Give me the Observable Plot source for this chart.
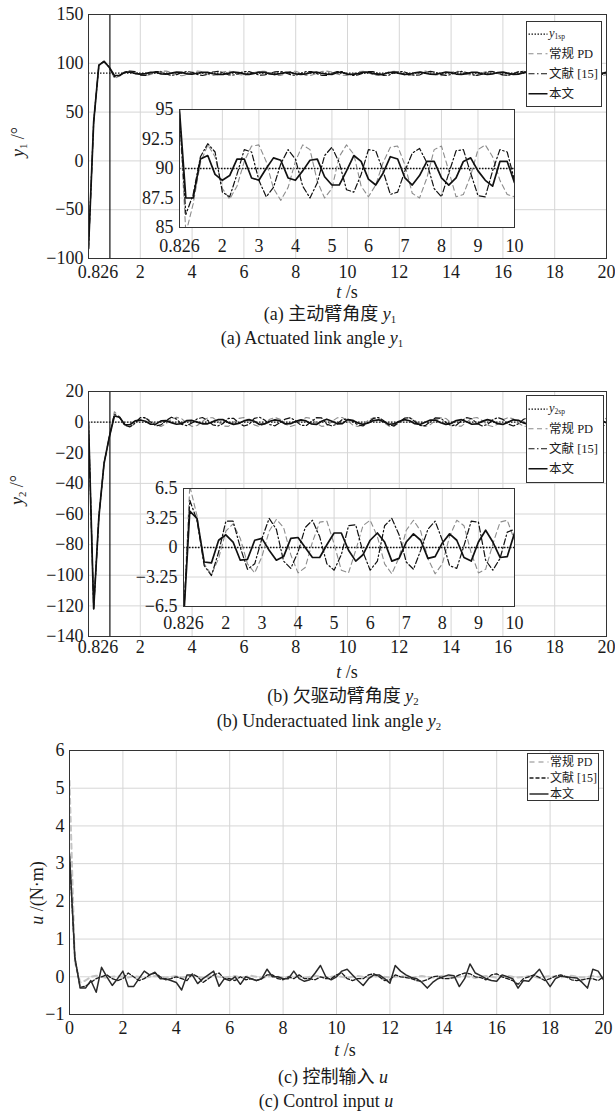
<!DOCTYPE html>
<html><head><meta charset="utf-8">
<script src="https://cdn.jsdelivr.net/npm/d3@7"></script>
<script src="https://cdn.jsdelivr.net/npm/@observablehq/plot@0.6"></script>
<style>
body{margin:0;background:#fff;}
#fig{position:relative;width:615px;height:1112px;font-family:"Liberation Serif","Noto Sans CJK SC",serif;color:#1a1a1a;overflow:hidden}
#fig svg.plotsvg{font-family:"Liberation Serif",serif !important;font-size:18px !important;overflow:visible !important;background:transparent !important;}
.t{position:absolute;transform:translate(-50%,-50%);white-space:nowrap;font-size:18px;line-height:1}
.ylab{position:absolute;transform:translate(-50%,-50%) rotate(-90deg);white-space:nowrap;font-size:18px;line-height:1}
.leg{position:absolute;background:#fff;border:1.3px solid #333;box-sizing:border-box}
.leg .row{position:absolute;left:1px;display:flex;align-items:center;white-space:nowrap;transform:translateY(-50%);line-height:1}
sub{font-size:0.6em;vertical-align:-0.3em}
</style></head><body><div id="fig"></div>
<script>
// ---------------- data (sampled every STEP seconds from t = 0 to 20) ----------------
const STEP = 0.2;
const T = d3.range(101).map(i => Math.round(i * STEP * 10) / 10);

// Panel (a): actuated link angle y1 (deg)
const y1sp = 90;
const a_pd = [-90,40,98,102,96,84.5,87.0,90.5,92.0,91.0,
88.3,87.4,88.5,90.6,91.9,92.0,90.6,88.3,87.3,88.4,
90.6,92.0,91.6,88.9,87.5,88.3,91.0,92.0,91.2,88.5,
87.6,88.6,90.5,91.8,91.9,90.3,87.9,87.5,89.2,91.6,
91.9,89.8,87.6,87.8,89.4,91.6,92.0,91.0,89.0,87.8,
87.6,89.0,91.4,91.9,90.5,88.0,87.5,88.9,91.3,91.9,
90.6,88.1,87.5,88.6,91.0,92.0,91.0,88.4,87.4,88.3,
90.7,91.9,91.4,88.9,87.5,87.9,90.2,91.8,91.7,89.5,
87.6,87.7,89.7,91.6,91.9,90.1,87.8,87.5,89.2,91.4,
92.0,90.7,88.2,87.4,88.6,91.0,92.0,91.2,88.6,87.5,
88.2];
const a_ref = [-90,40,98,102,96,86.1,87.8,91.0,92.1,91.4,
88.0,87.6,89.5,91.6,91.4,89.0,87.6,88.4,90.4,91.6,
90.8,88.5,87.5,88.8,91.1,91.8,90.5,88.2,88.0,89.5,
91.6,91.5,89.8,87.8,88.0,89.8,91.3,91.7,90.5,88.3,
87.6,89.6,91.5,91.6,89.6,87.7,87.6,89.8,91.6,91.4,
89.0,87.6,88.0,90.0,91.6,91.4,89.4,87.6,87.9,90.2,
91.7,91.2,89.0,87.6,88.2,90.5,91.7,90.9,88.7,87.5,
88.5,90.8,91.7,90.6,88.4,87.6,88.8,91.0,91.6,90.2,
88.1,87.7,89.2,91.3,91.5,89.9,87.9,87.8,89.6,91.5,
91.4,89.5,87.7,88.0,90.0,91.6,91.2,89.1,87.6,88.3,
90.4];
const a_ours = [-90,40,98,102,96,87.5,87.5,90.8,91.1,89.5,
89.0,89.4,90.8,90.8,89.2,89.0,90.0,90.9,90.7,89.2,
89.0,89.8,90.7,90.8,89.3,88.6,88.6,89.8,91.1,90.6,
89.1,88.6,89.6,91.0,90.8,89.2,88.6,89.4,90.6,90.6,
89.2,88.6,89.2,90.6,90.9,89.8,89.0,88.5,90.6,90.6,
88.8,88.6,89.4,90.7,90.9,89.4,88.6,89.0,90.6,90.9,
89.6,88.7,88.8,90.3,91.0,90.0,88.8,88.6,89.8,90.9,
90.5,89.0,88.6,89.5,90.8,90.7,89.3,88.6,89.2,90.6,
90.9,89.6,88.7,88.9,90.4,91.0,89.9,88.7,88.7,90.0,
90.9,90.3,88.9,88.6,89.6,90.8,90.6,89.1,88.6,89.4,
90.7];

// Panel (b): underactuated link angle y2 (deg)
const y2sp = 0;
const b_pd = [0,-122,-62,-27,-10,6.8,3.5,-1.8,-3.0,-1.2,
1.8,2.6,1.0,-1.8,-2.8,-1.0,1.8,3.1,2.2,-0.8,
-2.8,-2.2,0.6,2.8,2.9,0.4,-2.5,-2.8,-0.3,2.4,
3.0,1.2,-1.8,-2.9,-1.1,1.9,3.0,1.8,-1.2,-2.9,
-1.8,1.2,3.0,2.4,-0.6,-2.8,-2.4,0.4,2.8,3.0,
0.8,-1.8,-2.9,-1.6,1.2,2.9,2.5,-0.2,-2.6,-2.7,
-0.3,2.4,3.0,1.2,-1.7,-2.9,-1.6,1.2,2.9,2.4,
-0.4,-2.7,-2.6,0.0,2.6,3.0,1.0,-1.9,-2.9,-1.3,
1.5,3.0,2.2,-0.6,-2.8,-2.5,0.2,2.7,2.9,0.8,
-2.0,-2.9,-1.1,1.7,3.0,2.0,-0.8,-2.8,-2.4,0.4,
2.7];
const b_ref = [0,-122,-62,-27,-10,5.2,3.0,-2.0,-3.1,-0.5,
2.9,2.9,0.0,-2.4,-1.8,1.0,3.2,2.0,-1.5,-2.3,
-0.5,2.2,3.0,1.2,-1.8,-2.5,-0.8,2.4,2.5,-0.5,
-2.5,-1.5,2.4,3.2,1.4,-1.6,-2.4,-0.3,2.0,2.9,
0.8,-2.0,-2.3,0.2,2.9,2.8,-1.4,-2.5,-1.2,1.7,
2.0,0.6,-1.9,-2.5,-0.2,2.4,3.0,0.9,-2.0,-2.4,
0.0,2.6,2.8,0.4,-2.2,-2.3,0.4,2.8,2.6,-0.2,
-2.4,-2.0,0.9,2.9,2.2,-0.8,-2.5,-1.6,1.4,3.0,
1.8,-1.2,-2.5,-1.1,1.9,3.0,1.3,-1.6,-2.5,-0.5,
2.3,2.9,0.7,-2.0,-2.4,0.0,2.6,2.7,0.2,-2.2,
-2.2];
const b_ours = [0,-122,-62,-27,-10,4.0,3.2,-1.6,-1.7,0.8,
1.4,0.6,-1.4,-1.3,0.8,1.0,-0.3,-1.4,-1.0,1.0,
1.1,0.0,-1.1,-1.1,0.3,1.6,1.6,-0.3,-1.5,-0.8,
0.8,1.6,0.6,-1.5,-1.2,0.6,1.5,0.8,-1.2,-1.0,
0.5,1.5,0.8,-1.1,-1.5,0.6,1.9,0.6,-1.1,-1.0,
1.6,1.2,-0.6,-1.5,-0.6,1.0,1.5,0.2,-1.4,-1.2,
0.5,1.6,0.9,-1.0,-1.5,-0.1,1.4,1.3,-0.4,-1.5,
-0.8,1.0,1.6,0.2,-1.4,-1.2,0.5,1.6,0.8,-1.0,
-1.5,0.0,1.5,1.2,-0.5,-1.5,-0.7,1.0,1.6,0.2,
-1.4,-1.2,0.5,1.6,0.8,-1.0,-1.5,0.0,1.5,1.2,
-0.5];

// Panel (c): control input u (N·m)
const c_pd = [5.2,0.4,-0.15,-0.1,0.0,0.03,0.0,-0.03,0.0,0.02,
0.0,-0.02,0.02,0.0,-0.03,0.0,0.02,0.0,-0.02,0.0,
0.02,-0.02,0.0,0.03,0.0,-0.03,0.0,0.02,0.0,-0.02,
0.0,0.02,-0.02,0.0,0.03,0.0,-0.03,0.0,0.02,0.0,
-0.02,0.0,0.02,0.0,-0.03,0.0,0.03,0.0,-0.02,0.0,
0.02,0.0,-0.03,0.0,0.02,0.0,-0.02,0.0,0.03,0.0,
-0.02,0.0,0.02,0.0,-0.03,0.0,0.02,0.0,-0.02,0.0,
0.03,0.0,-0.02,0.0,0.02,0.0,-0.03,0.0,0.02,0.0,
-0.02,0.0,0.03,0.0,-0.02,0.0,0.02,0.0,-0.03,0.0,
0.02,0.0,-0.02,0.0,0.03,0.0,-0.02,0.0,0.02,0.0,
0.0];
const c_ref = [3.2,0.5,-0.28,-0.25,-0.15,-0.05,0.0,0.05,-0.05,-0.1,
-0.05,0.1,0.0,-0.1,-0.05,0.05,0.1,0.0,-0.08,-0.05,
0.0,-0.05,-0.1,0.08,0.0,-0.15,-0.05,0.05,0.1,-0.05,
-0.05,-0.1,0.0,-0.08,-0.05,-0.1,-0.05,0.05,0.05,-0.05,
-0.08,0.0,-0.05,0.05,-0.05,-0.05,-0.08,0.0,-0.05,-0.05,
0.05,0.1,-0.05,-0.1,-0.05,-0.05,0.05,0.08,0.0,-0.1,
-0.08,0.05,0.0,-0.02,-0.05,-0.1,-0.12,-0.08,0.0,0.02,
-0.05,-0.05,-0.02,0.05,0.1,0.08,0.0,-0.02,-0.08,0.05,
0.08,0.0,-0.05,-0.1,-0.2,-0.05,0.0,0.05,-0.02,-0.1,
-0.05,0.02,0.05,0.0,-0.08,-0.1,-0.08,-0.05,-0.05,-0.1,
0.0];
const c_ours = [3.26,0.52,-0.3,-0.3,-0.1,-0.41,0.25,0.0,-0.23,-0.05,
0.15,-0.26,-0.26,-0.05,0.15,0.05,0.12,-0.05,-0.05,-0.1,
-0.15,-0.35,0.05,0.05,-0.18,-0.05,0.05,0.15,-0.25,-0.05,
-0.1,0.0,-0.2,0.0,-0.05,-0.1,-0.05,0.2,0.0,0.0,
-0.05,-0.05,0.15,-0.05,-0.12,-0.08,0.1,0.3,0.0,-0.08,
0.0,0.15,0.2,0.05,-0.1,-0.23,-0.05,0.05,0.05,-0.05,
-0.17,0.3,0.15,0.05,-0.02,-0.05,-0.15,-0.3,-0.15,-0.05,
0.0,0.05,0.03,-0.26,-0.05,0.34,0.1,0.03,-0.05,-0.1,
-0.12,0.05,0.0,-0.05,-0.3,-0.1,-0.12,0.05,0.2,-0.05,
-0.26,-0.05,0.02,0.0,-0.02,-0.03,-0.15,-0.3,0.2,0.15,
-0.08];

// ticks
const tMark = 0.826;
const xTicksMain = [2,4,6,8,10,12,14,16,18,20];
const xTicksC = [0,2,4,6,8,10,12,14,16,18,20];
const xTicksInset = [0.826,2,3,4,5,6,7,8,9,10];
const yTicksA = [-100,-50,0,50,100,150];
const yTicksAin = [85,87.5,90,92.5,95];
const yTicksB = [-140,-120,-100,-80,-60,-40,-20,0,20];
const yTicksBin = [-6.5,-3.25,0,3.25,6.5];
const yTicksC = [-1,0,1,2,3,4,5,6];
const labels = {pd: "常规 PD", ref: "文献 [15]", ours: "本文"};

// ---------------- helpers ----------------
const fig = document.getElementById("fig");
const rows = vals => vals.map((v, i) => ({t: T[i], v}));
const fmt = d => (d < 0 ? "\u2212" : "") + Math.abs(d);
const GRID = {stroke: "#d6d6d6", strokeOpacity: 1, strokeWidth: 1};
const STYLE = {fontFamily: "'Liberation Serif', serif", fontSize: "18px", color: "#1a1a1a", background: "transparent", overflow: "visible"};
const SP = {stroke: "#111", strokeWidth: 1.3, strokeDasharray: "1.5,1.5"};
const S_AB = {
  pd: {stroke: "#8c8c8c", strokeWidth: 1.1, strokeDasharray: "5,3.5"},
  ref: {stroke: "#111", strokeWidth: 1.2, strokeDasharray: "6,2.5,1.5,2.5"},
  ours: {stroke: "#111", strokeWidth: 1.7}
};
const S_C = {
  pd: {stroke: "#c4c4c4", strokeWidth: 2, strokeDasharray: "5,4"},
  ref: {stroke: "#1a1a1a", strokeWidth: 1.3, strokeDasharray: "4,2"},
  ours: {stroke: "#2a2a2a", strokeWidth: 1.5}
};
function seriesLines(pd, ref, ours, S) {
  return [
    Plot.line(rows(pd), {x: "t", y: "v", clip: true, ...S.pd}),
    Plot.line(rows(ref), {x: "t", y: "v", clip: true, ...S.ref}),
    Plot.line(rows(ours), {x: "t", y: "v", clip: true, ...S.ours})
  ];
}
function place(el, left, top) {
  el.classList.add("plotsvg");
  const d = document.createElement("div");
  d.style.cssText = `position:absolute;left:${left}px;top:${top}px`;
  d.appendChild(el);
  fig.appendChild(d);
}
function text(html, x, y, cls = "t", extra = "") {
  const d = document.createElement("div");
  d.className = cls;
  d.style.cssText += `left:${x}px;top:${y}px;${extra}`;
  d.innerHTML = html;
  fig.appendChild(d);
}
function legend(left, top, w, h, fs, entries) {
  const box = document.createElement("div");
  box.className = "leg";
  box.style.cssText += `left:${left}px;top:${top}px;width:${w}px;height:${h}px;font-size:${fs}px`;
  entries.forEach(e => {
    const r = document.createElement("div");
    r.className = "row";
    r.style.top = e.y + "px";
    r.innerHTML = `<svg width="20" height="8" style="display:block"><line x1="0.5" x2="19.5" y1="4" y2="4" stroke="${e.s.stroke}" stroke-width="${e.s.strokeWidth}" stroke-dasharray="${e.s.strokeDasharray || ""}"/></svg><span style="margin-left:1px">${e.label}</span>`;
    box.appendChild(r);
  });
  fig.appendChild(box);
}

function mainPlot(o) {
  return Plot.plot({
    width: 615, height: o.height,
    marginTop: 14, marginBottom: o.height - 14 - o.fh, marginLeft: o.ml, marginRight: o.mr,
    x: {domain: [0, 20], label: null},
    y: {domain: o.ydom, label: null},
    style: STYLE,
    marks: [
      Plot.gridX(o.gx, GRID),
      Plot.gridY(o.gy, GRID),
      o.sp !== undefined ? Plot.ruleY([o.sp], SP) : null,
      ...o.lines,
      o.vline ? Plot.ruleX([o.vline], {stroke: "#111", strokeWidth: 1.2}) : null,
      Plot.frame({stroke: "#333", strokeWidth: 1}),
      Plot.axisY(o.yticks, {tickSize: 0, tickPadding: 5, tickFormat: fmt, label: null}),
      Plot.axisX(o.xticks, {tickSize: 0, tickPadding: o.xpad, tickFormat: fmt, label: null}),
      o.vline ? Plot.axisX([o.vline], {tickSize: 0, tickPadding: o.xpad, tickFormat: fmt, label: null, dx: -12}) : null
    ]
  });
}
function insetPlot(o) {
  return Plot.plot({
    width: o.ml + o.fw + 25, height: 10 + o.fh + 32,
    marginTop: 10, marginBottom: 32, marginLeft: o.ml, marginRight: 25,
    x: {domain: [0.826, 10], label: null},
    y: {domain: o.ydom, label: null},
    style: STYLE,
    marks: [
      Plot.frame({fill: "white", stroke: null}),
      Plot.gridX([2,3,4,5,6,7,8,9], GRID),
      Plot.gridY(o.gy, GRID),
      Plot.ruleY([o.sp], SP),
      ...o.lines,
      Plot.frame({stroke: "#333", strokeWidth: 1}),
      Plot.axisY(o.yticks, {tickSize: 0, tickPadding: 6, tickFormat: fmt, label: null}),
      Plot.axisX(xTicksInset, {tickSize: 0, tickPadding: o.xpad, tickFormat: fmt, label: null})
    ]
  });
}

// ---------------- panel (a) ----------------
place(mainPlot({height: 288, fh: 244, ml: 88, mr: 9, ydom: [-100, 150],
  gx: [2,4,6,8,10,12,14,16,18], gy: [-50,0,50,100], sp: y1sp, vline: tMark,
  lines: seriesLines(a_pd, a_ref, a_ours, S_AB), yticks: yTicksA, xticks: xTicksMain, xpad: 7}), 0, 0);
place(insetPlot({ml: 55, fw: 335, fh: 118, ydom: [85, 95], gy: [87.5, 90, 92.5], sp: y1sp,
  lines: seriesLines(a_pd, a_ref, a_ours, S_AB), yticks: yTicksAin, xpad: 12}), 179 - 55, 109 - 10);
legend(526, 21, 76, 86, 12.5, [
  {y: 12, s: SP, label: "<i>y</i><sub>1sp</sub>"},
  {y: 32, s: S_AB.pd, label: labels.pd},
  {y: 52, s: S_AB.ref, label: labels.ref},
  {y: 72, s: S_AB.ours, label: labels.ours}
]);
text("<i>y</i><sub>1</sub> /°", 19, 142, "ylab");
text("<i>t</i> /s", 347, 292);
text("(a) 主动臂角度 <i>y</i><sub>1</sub>", 330, 315);
text("(a) Actuated link angle <i>y</i><sub>1</sub>", 312, 339);

// ---------------- panel (b) ----------------
place(mainPlot({height: 289, fh: 245, ml: 88, mr: 9, ydom: [-140, 20],
  gx: [2,4,6,8,10,12,14,16,18], gy: [-120,-100,-80,-60,-40,-20,0], sp: y2sp, vline: tMark,
  lines: seriesLines(b_pd, b_ref, b_ours, S_AB), yticks: yTicksB, xticks: xTicksMain, xpad: 4}), 0, 377);
place(insetPlot({ml: 59, fw: 331, fh: 118, ydom: [-6.5, 6.5], gy: [-3.25, 0, 3.25], sp: y2sp,
  lines: seriesLines(b_pd, b_ref, b_ours, S_AB), yticks: yTicksBin, xpad: 10}), 183 - 59, 488 - 10);
legend(526, 395, 78, 88, 12.5, [
  {y: 13, s: SP, label: "<i>y</i><sub>2sp</sub>"},
  {y: 33, s: S_AB.pd, label: labels.pd},
  {y: 53, s: S_AB.ref, label: labels.ref},
  {y: 73, s: S_AB.ours, label: labels.ours}
]);
text("<i>y</i><sub>2</sub> /°", 18, 490, "ylab");
text("<i>t</i> /s", 347, 672);
text("(b) 欠驱动臂角度 <i>y</i><sub>2</sub>", 343, 697);
text("(b) Underactuated link angle <i>y</i><sub>2</sub>", 329, 722);

// ---------------- panel (c) ----------------
place(mainPlot({height: 308, fh: 264, ml: 69, mr: 12, ydom: [-1, 6],
  gx: [2,4,6,8,10,12,14,16,18], gy: [0,1,2,3,4,5],
  lines: seriesLines(c_pd, c_ref, c_ours, S_C), yticks: yTicksC, xticks: xTicksC, xpad: 7}), 0, 736);
legend(527, 753, 72, 48, 12, [
  {y: 8, s: S_C.pd, label: labels.pd},
  {y: 24, s: S_C.ref, label: labels.ref},
  {y: 40, s: S_C.ours, label: labels.ours}
]);
text("<i>u</i> /(N·m)", 37, 893, "ylab");
text("<i>t</i> /s", 345, 1050);
text("(c) 控制输入 <i>u</i>", 333, 1077);
text("(c) Control input <i>u</i>", 326, 1101);
</script></body></html>
